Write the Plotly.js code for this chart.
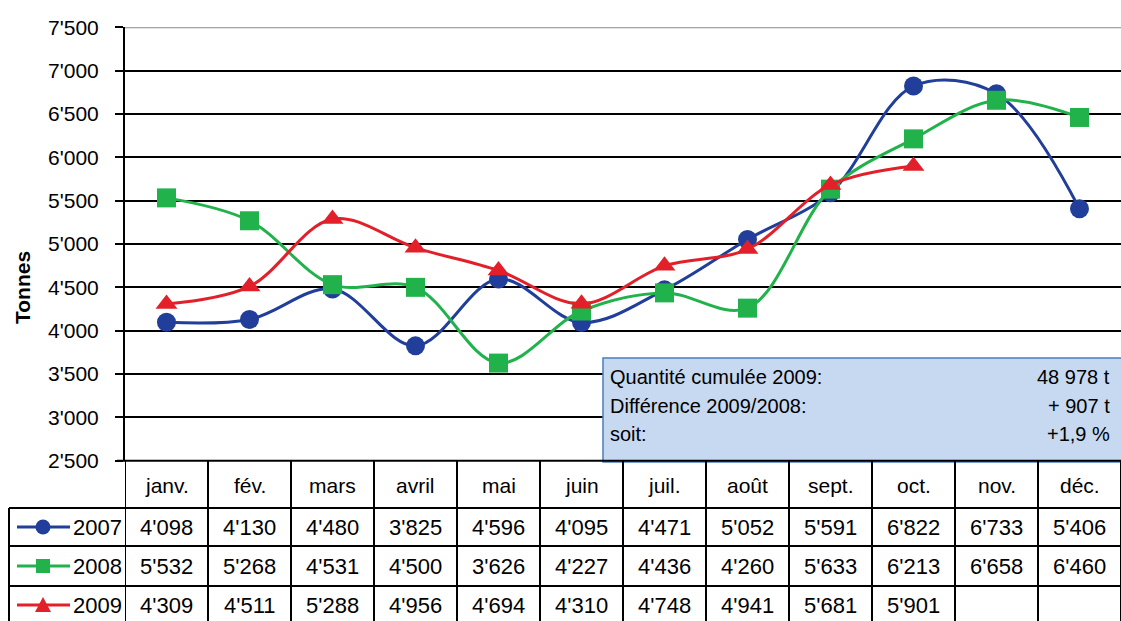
<!DOCTYPE html>
<html><head><meta charset="utf-8">
<script src="https://cdn.plot.ly/plotly-3.0.1.min.js"></script>
<style>body{margin:0;background:#fff}#chart{width:1121px;height:621px}</style>
</head><body><div id="chart"></div>
<script>
const months = ['janv.','fév.','mars','avril','mai','juin','juil.','août','sept.','oct.','nov.','déc.'];
const years = ['2007','2008','2009'];
const v2007 = [4098,4130,4480,3825,4596,4095,4471,5052,5591,6822,6733,5406];
const v2008 = [5532,5268,4531,4500,3626,4227,4436,4260,5633,6213,6658,6460];
const v2009 = [4309,4511,5288,4956,4694,4310,4748,4941,5681,5901,null,null];
const yTicks = [2500,3000,3500,4000,4500,5000,5500,6000,6500,7000,7500];
const boxLabels = ['Quantité cumulée 2009:','Différence 2009/2008:','soit:'];
const boxValues = ['48 978 t','+ 907 t','+1,9 %'];

const series = [v2007, v2008, v2009];
const colors = ['#213f9a', '#22b24c', '#e3202a'];
const symbols = ['circle', 'square', 'triangle-up'];

const W = 1121, H = 621;
const px = p => p / W;
const py = p => 1 - p / H;
const fmt = n => (n == null ? '' : Math.floor(n / 1000) + "'" + String(n % 1000).padStart(3, '0'));
const FONT = 'Liberation Sans, Arial, sans-serif';

const xIdx = months.map((m, i) => i);
const traces = series.map((vals, s) => ({
  type: 'scatter', mode: 'lines+markers', x: xIdx, y: vals, name: years[s],
  line: {color: colors[s], width: 3, shape: 'spline', smoothing: 1},
  marker: {symbol: symbols[s], color: colors[s], size: s === 2 ? 19 : 19},
  connectgaps: false, cliponaxis: false
}));

const shapes = [];
const annotations = [];

shapes.push({type: 'line', xref: 'paper', yref: 'y', x0: px(125), x1: 1, y0: 7500, y1: 7500,
  line: {color: '#8a8a8a', width: 2}, layer: 'above'});

shapes.push({type: 'rect', xref: 'paper', yref: 'paper', x0: px(603), x1: px(1125), y0: py(462), y1: py(358),
  fillcolor: '#c6d9f1', line: {color: '#4a7ebb', width: 1.5}, layer: 'above'});
boxLabels.forEach((t, i) => {
  const yc = [377, 406, 434][i];
  annotations.push({xref: 'paper', yref: 'paper', x: px(608), y: py(yc), xanchor: 'left', yanchor: 'middle',
    text: t, showarrow: false, font: {family: FONT, size: 20, color: '#000'}});
  annotations.push({xref: 'paper', yref: 'paper', x: px(1112), y: py(yc), xanchor: 'right', yanchor: 'middle',
    text: boxValues[i], showarrow: false, font: {family: FONT, size: 20, color: '#000'}});
});

const tl = {color: '#000', width: 2};
shapes.push({type: 'line', xref: 'paper', yref: 'paper', x0: px(117), x1: 1, y0: py(460.7), y1: py(460.7), line: tl, layer: 'above'});
[508, 546, 586].forEach(yy => shapes.push({type: 'line', xref: 'paper', yref: 'paper', x0: px(9), x1: 1, y0: py(yy), y1: py(yy), line: tl, layer: 'above'}));
for (let k = 0; k <= months.length; k++) {
  shapes.push({type: 'line', xref: 'x', yref: 'paper', x0: k - 0.5, x1: k - 0.5, y0: py(460.7), y1: 0, line: tl, layer: 'above'});
}
shapes.push({type: 'line', xref: 'paper', yref: 'paper', x0: px(9), x1: px(9), y0: py(508), y1: 0, line: tl, layer: 'above'});

months.forEach((m, i) => annotations.push({xref: 'x', yref: 'paper', x: i, y: py(485), yanchor: 'middle',
  text: m, showarrow: false, font: {family: FONT, size: 21, color: '#000'}}));

const rowCenters = [527, 566, 605];
series.forEach((vals, s) => {
  vals.forEach((v, i) => {
    if (v == null) return;
    annotations.push({xref: 'x', yref: 'paper', x: i, y: py(rowCenters[s]), yanchor: 'middle',
      text: fmt(v), showarrow: false, font: {family: FONT, size: 22, color: '#000'}});
  });
  const yc = rowCenters[s];
  shapes.push({type: 'line', xref: 'paper', yref: 'paper', x0: px(17), x1: px(70), y0: py(yc), y1: py(yc),
    line: {color: colors[s], width: 3}, layer: 'above'});
  const cx = 43, r = 7.5;
  if (symbols[s] === 'circle') {
    shapes.push({type: 'circle', xref: 'paper', yref: 'paper', x0: px(cx - r), x1: px(cx + r), y0: py(yc + r), y1: py(yc - r),
      fillcolor: colors[s], line: {color: colors[s], width: 0}, layer: 'above'});
  } else if (symbols[s] === 'square') {
    shapes.push({type: 'rect', xref: 'paper', yref: 'paper', x0: px(cx - 7), x1: px(cx + 7), y0: py(yc + 7), y1: py(yc - 7),
      fillcolor: colors[s], line: {color: colors[s], width: 0}, layer: 'above'});
  } else {
    const p = `M ${px(cx - 8)},${py(yc + 7)} L ${px(cx + 8)},${py(yc + 7)} L ${px(cx)},${py(yc - 8)} Z`;
    shapes.push({type: 'path', xref: 'paper', yref: 'paper', path: p,
      fillcolor: colors[s], line: {color: colors[s], width: 0}, layer: 'above'});
  }
  annotations.push({xref: 'paper', yref: 'paper', x: px(71), y: py(yc), xanchor: 'left', yanchor: 'middle',
    text: years[s], showarrow: false, font: {family: FONT, size: 22, color: '#000'}});
});

annotations.push({xref: 'paper', yref: 'paper', x: px(22), y: py(288), xanchor: 'center', yanchor: 'middle',
  text: '<b>Tonnes</b>', textangle: -90, showarrow: false, font: {family: FONT, size: 21, color: '#000'}});

const layout = {
  width: W, height: H,
  margin: {l: 0, r: 0, t: 0, b: 0},
  paper_bgcolor: '#fff', plot_bgcolor: '#fff',
  showlegend: false,
  xaxis: {domain: [px(125), 1], range: [-0.5, 11.5], showticklabels: false, showgrid: false,
    zeroline: false, showline: false, ticks: '', fixedrange: true},
  yaxis: {domain: [py(460.7), py(27.3)], range: [2500, 7500], tickvals: yTicks, ticktext: yTicks.map(fmt),
    ticks: 'outside', ticklen: 8, tickwidth: 2, tickcolor: '#000', showgrid: true, gridcolor: '#000',
    gridwidth: 2, showline: true, linecolor: '#000', linewidth: 2, zeroline: false,
    ticklabelstandoff: 12, tickfont: {family: FONT, size: 21, color: '#000'}, fixedrange: true},
  shapes: shapes,
  annotations: annotations
};

Plotly.newPlot('chart', traces, layout, {staticPlot: true, displayModeBar: false});
</script>
</body></html>
